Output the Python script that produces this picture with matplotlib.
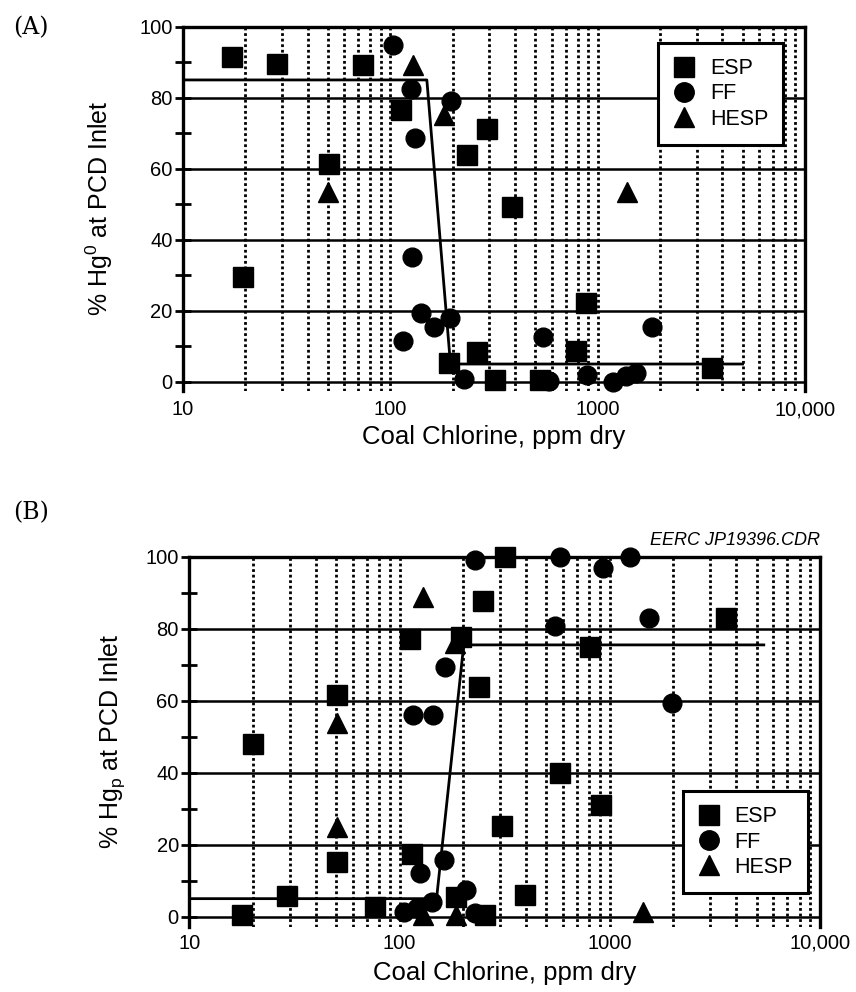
import matplotlib
matplotlib.use("Agg")
import matplotlib.pyplot as plt
from matplotlib.ticker import FixedLocator, NullFormatter, LogLocator
from matplotlib.lines import Line2D

plt.rcParams['font.family'] = ['Liberation Sans', 'DejaVu Sans']
plt.rcParams['mathtext.fontset'] = 'custom'
plt.rcParams['mathtext.rm'] = 'Liberation Sans'
plt.rcParams['mathtext.it'] = 'Liberation Sans:italic'

# ---- panel A: % Hg0 at PCD inlet ----
esp_a_x = [17.2, 28.4, 73.8, 19.5, 50.4, 112.6, 293, 235, 385, 191, 262, 321, 530, 784, 875, 3580]
esp_a_y = [91.4, 89.5, 89.2, 29.4, 61.2, 76.5, 71.1, 63.8, 49.3, 5.4, 8.5, 0.5, 0.5, 8.7, 22.3, 4.0]
ff_a_x = [103, 126, 131, 127, 140, 115, 162, 195, 197, 226, 547, 582, 885, 1192, 1365, 1527, 1837]
ff_a_y = [94.8, 82.4, 68.6, 35.0, 19.3, 11.5, 15.3, 17.9, 79.2, 0.7, 12.7, 0.2, 1.9, 0.0, 1.6, 2.4, 15.5]
hesp_a_x = [50, 129, 181, 1390]
hesp_a_y = [53.5, 89.2, 75.1, 53.5]
fit_a_x = [10, 150, 195, 5000]
fit_a_y = [85, 85, 5, 5]

# ---- panel B: % Hgp at PCD inlet ----
esp_b_x = [20.0, 17.9, 29.3, 50.7, 50.7, 76.6, 112, 195, 249, 318, 238, 307, 114.5, 186, 256, 809, 582, 904, 397, 3556]
esp_b_y = [48.0, 0.5, 5.6, 61.6, 15.3, 2.8, 77, 77.6, 87.8, 100, 63.7, 25.2, 17.4, 5.4, 0.5, 75, 39.8, 31, 6, 82.9]
ff_b_x = [229, 582, 930, 1245, 551, 1535, 1982, 116, 145, 165, 124.5, 163, 104.5, 121, 142.5, 206, 229]
ff_b_y = [99.1, 100, 96.8, 100, 80.7, 82.9, 59.3, 56, 56, 69.4, 12, 15.7, 1.4, 2.3, 4.2, 7.4, 0.9]
hesp_b_x = [129, 50.3, 50.3, 184, 129, 186, 1442]
hesp_b_y = [88.9, 53.7, 25, 75.9, 0.5, 0.5, 1.4]
fit_b_x = [10, 150, 202, 5400]
fit_b_y = [5, 5, 75.5, 75.5]

xtick_vals = [10, 100, 1000, 10000]
xtick_labels = ['10', '100', '1000', '10,000']


def style_axes(ax, ylo, tickpad):
    ax.set_xscale('log')
    ax.set_xlim(10, 10000)
    ax.set_ylim(ylo, 100)
    ax.xaxis.set_major_locator(FixedLocator(xtick_vals))
    ax.set_xticklabels(xtick_labels)
    ax.xaxis.set_minor_locator(LogLocator(base=10, subs=range(2, 10)))
    ax.xaxis.set_minor_formatter(NullFormatter())
    ax.set_yticks([0, 20, 40, 60, 80, 100])
    ax.set_yticks([10, 30, 50, 70, 90], minor=True)
    ax.tick_params(axis='x', which='both', length=0, labelsize=14.5, pad=tickpad)
    ax.tick_params(axis='y', which='both', direction='inout', length=11, width=2,
                   labelsize=14.5, pad=2)
    # dotted vertical grid, solid horizontal lines
    ax.grid(True, axis='x', which='both', color='black', linestyle=(0, (1, 1)), lw=2)
    ax.grid(True, axis='y', which='major', color='black', linestyle='-', lw=1.8)
    ax.set_axisbelow(True)
    ax.spines['bottom'].set_visible(False)
    for s in ['left', 'right', 'top']:
        ax.spines[s].set_linewidth(2.4)


def draw(ax, ex, ey, fx, fy, hx, hy, lx, ly):
    ax.plot(lx, ly, color='black', lw=2, zorder=3)
    ax.plot(ex, ey, 's', color='black', ms=14.5, ls='none', clip_on=False, zorder=4)
    ax.plot(fx, fy, 'o', color='black', ms=13.5, ls='none', clip_on=False, zorder=4)
    ax.plot(hx, hy, '^', color='black', ms=15, ls='none', clip_on=False, zorder=4)


def add_legend(ax, loc, anchor):
    handles = [Line2D([], [], marker='s', color='black', ls='none', ms=14),
               Line2D([], [], marker='o', color='black', ls='none', ms=14),
               Line2D([], [], marker='^', color='black', ls='none', ms=15)]
    leg = ax.legend(handles, ['ESP', 'FF', 'HESP'], loc=loc, bbox_to_anchor=anchor,
                    fontsize=15.5, frameon=True, fancybox=False, framealpha=1,
                    edgecolor='black', borderaxespad=0, handlelength=1.0,
                    handletextpad=0.7, labelspacing=0.2, borderpad=0.7)
    leg.get_frame().set_linewidth(2.2)
    leg.set_zorder(5)


fig = plt.figure(figsize=(8.56, 9.92), dpi=100)

ax1 = fig.add_axes([0.2138, 0.6062, 0.7266, 0.3669])
style_axes(ax1, -2.5, 7)
draw(ax1, esp_a_x, esp_a_y, ff_a_x, ff_a_y, hesp_a_x, hesp_a_y, fit_a_x, fit_a_y)
add_legend(ax1, 'upper right', (0.965, 0.955))
ax1.set_ylabel('% Hg$^0$ at PCD Inlet', fontsize=18)
ax1.yaxis.set_label_coords(-0.109, 0.5)
ax1.set_xlabel('Coal Chlorine, ppm dry', fontsize=18.5)
ax1.xaxis.set_label_coords(0.5, -0.095)

ax2 = fig.add_axes([0.2211, 0.0658, 0.7369, 0.373])
style_axes(ax2, -2.8, 5)
draw(ax2, esp_b_x, esp_b_y, ff_b_x, ff_b_y, hesp_b_x, hesp_b_y, fit_b_x, fit_b_y)
add_legend(ax2, 'lower right', (0.981, 0.091))
ax2.set_ylabel('% Hg$_\\mathrm{p}$ at PCD Inlet', fontsize=18)
ax2.yaxis.set_label_coords(-0.099, 0.5)
ax2.set_xlabel('Coal Chlorine, ppm dry', fontsize=18.5)
ax2.xaxis.set_label_coords(0.5, -0.093)
ax2.text(1.0, 1.02, 'EERC JP19396.CDR', transform=ax2.transAxes, ha='right',
         va='bottom', fontsize=13, style='italic')

fig.text(0.015, 1 - 28 / 992, '(A)', family='DejaVu Serif', fontsize=17, va='center')
fig.text(0.015, 1 - 513 / 992, '(B)', family='DejaVu Serif', fontsize=17, va='center')

fig.savefig('out.png', dpi=100)
